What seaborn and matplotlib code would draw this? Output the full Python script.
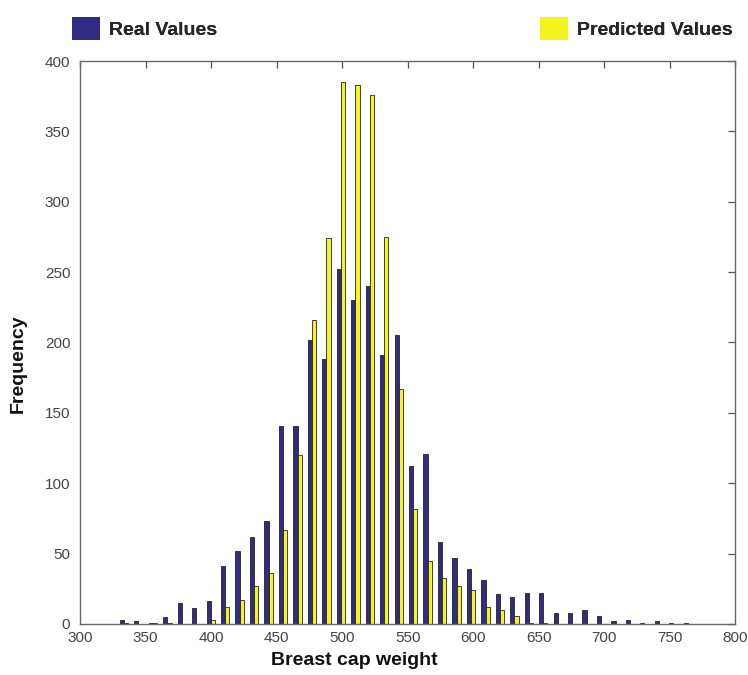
import matplotlib
matplotlib.use("Agg")
import matplotlib.pyplot as plt
from matplotlib.patches import Patch
import pandas as pd
import seaborn as sns

# Histogram bin centres (breast cap weight, g)
bin_centers = [333.6, 344.6, 355.7, 366.7, 377.7, 388.8, 399.8, 410.8, 421.8, 432.9,
               443.9, 454.9, 466.0, 477.0, 488.0, 499.1, 510.1, 521.1, 532.1, 543.2,
               554.2, 565.2, 576.3, 587.3, 598.3, 609.4, 620.4, 631.4, 642.4, 653.5,
               664.5, 675.5, 686.6, 697.6, 708.6, 719.7, 730.7, 741.7, 752.7, 763.8]

# Counts per bin
real_counts = [3, 2, 1, 5, 15, 11, 16, 41, 52, 62,
               73, 141, 141, 202, 188, 252, 230, 240, 191, 205,
               112, 121, 58, 47, 39, 31, 21, 19, 22, 22,
               8, 8, 10, 6, 2, 3, 1, 2, 1, 1]
predicted_counts = [1, 0, 1, 1, 0, 0, 3, 12, 17, 27,
                    36, 67, 120, 216, 274, 385, 383, 376, 275, 167,
                    82, 45, 33, 27, 24, 12, 10, 6, 1, 1,
                    0, 0, 0, 0, 0, 0, 0, 0, 0, 0]

series_names = ["Real Values", "Predicted Values"]
series_colors = {"Real Values": "#312B82", "Predicted Values": "#F4F51C"}

x_ticks = [300, 350, 400, 450, 500, 550, 600, 650, 700, 750, 800]
y_ticks = [0, 50, 100, 150, 200, 250, 300, 350, 400]

df = pd.DataFrame({
    "weight": bin_centers * 2,
    "count": real_counts + predicted_counts,
    "series": [series_names[0]] * len(bin_centers) + [series_names[1]] * len(bin_centers),
})

sns.set_style("white")
plt.rcParams["font.family"] = ["Liberation Sans", "DejaVu Sans"]

fig = plt.figure(figsize=(7.48, 6.75), dpi=100)
ax = fig.add_axes([0.107, 0.0756, 0.876, 0.834])

sns.barplot(data=df, x="weight", y="count", hue="series", hue_order=series_names,
            palette=series_colors, native_scale=True, width=0.58, errorbar=None,
            edgecolor="#222222", linewidth=0.6, saturation=1, legend=False, ax=ax)

ax.set_xlim(300, 800)
ax.set_ylim(0, 400)
ax.set_xticks(x_ticks)
ax.set_yticks(y_ticks)
ax.set_xticklabels([str(t) for t in x_ticks])
ax.set_yticklabels([str(t) for t in y_ticks])

for side in ["left", "right", "top", "bottom"]:
    ax.spines[side].set_visible(True)
    ax.spines[side].set_color("#666666")
    ax.spines[side].set_linewidth(1.0)

ax.tick_params(direction="in", length=5, width=0.9, color="#555555",
               top=True, right=True, labelsize=11, labelcolor="#444444")
ax.tick_params(axis="y", pad=7)
ax.tick_params(axis="x", pad=5)

ax.set_xlabel("Breast cap weight", fontsize=14, fontweight="bold", color="#111111")
ax.set_ylabel("Frequency", fontsize=14, fontweight="bold", color="#111111")
ax.xaxis.set_label_coords(0.418, -0.05)
ax.yaxis.set_label_coords(-0.082, 0.462)

# Legend entries placed above the plot, one on each side
for name, x_anchor in [("Real Values", 0.0963), ("Predicted Values", 0.722)]:
    handle = Patch(facecolor=series_colors[name], edgecolor="none")
    leg = fig.legend(handles=[handle], labels=[name], loc="center left",
                     bbox_to_anchor=(x_anchor, 0.958), frameon=False,
                     borderpad=0, borderaxespad=0, handlelength=1.45,
                     handleheight=1.4, handletextpad=0.45,
                     prop={"size": 14, "weight": "bold"})
    fig.add_artist(leg)

fig.savefig("out.png", dpi=100, facecolor="white")
